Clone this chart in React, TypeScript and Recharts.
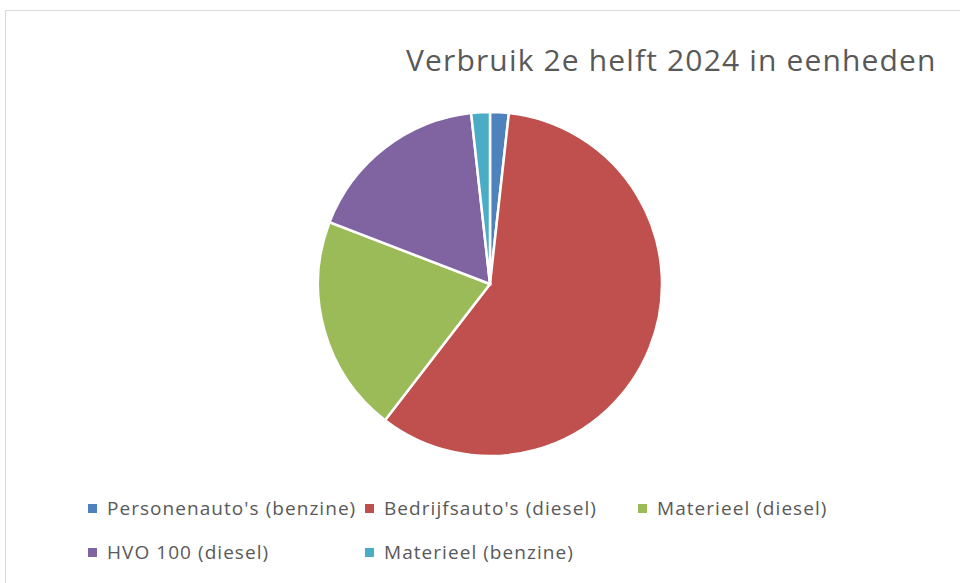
import React from "react";
import { PieChart, Pie, Cell, Customized } from "recharts";

const TITLE = "Verbruik 2e helft 2024 in eenheden";
const categories = [
  "Personenauto's (benzine)",
  "Bedrijfsauto's (diesel)",
  "Materieel (diesel)",
  "HVO 100 (diesel)",
  "Materieel (benzine)",
];
const values = [175, 5870, 2040, 1740, 175];
const colors = ["#4F81BD", "#C0504D", "#9BBB59", "#8064A2", "#4BACC6"];

const data = categories.map((name, i) => ({ name, value: values[i] }));

const FONT = "'Open Sans', 'DejaVu Sans', sans-serif";
const TEXT_COLOR = "#595959";

// legend layout: 3 columns, 2 rows
const legendCols = [88, 365, 638];
const legendRows = [504, 548];

const Frame = () => (
  <rect x={5.5} y={10.5} width={1000} height={1000} fill="none" stroke="#D9D9D9" strokeWidth={1} />
);

const Title = () => (
  <text x={406} y={71} fontFamily={FONT} fontSize={30} letterSpacing={1.15} fill={TEXT_COLOR}>
    {TITLE}
  </text>
);

const LegendBlock = () => (
  <g>
    {categories.map((name, i) => {
      const x = legendCols[i % 3];
      const y = legendRows[Math.floor(i / 3)];
      return (
        <g key={name}>
          <rect x={x} y={y} width={9} height={9} fill={colors[i]} />
          <text
            x={x + 19}
            y={y + 11}
            fontFamily={FONT}
            fontSize={19}
            letterSpacing={1.05}
            fill={TEXT_COLOR}
          >
            {name}
          </text>
        </g>
      );
    })}
  </g>
);

export default function App() {
  return (
    <div style={{ position: "absolute", left: 0, top: 0, width: 960, height: 583, background: "#fff" }}>
      <PieChart width={960} height={583} margin={{ top: 0, right: 0, bottom: 0, left: 0 }}>
        <Customized component={Frame} />
        <Customized component={Title} />
        <Pie
          data={data}
          dataKey="value"
          nameKey="name"
          cx={490}
          cy={284}
          outerRadius={172}
          startAngle={90}
          endAngle={-270}
          stroke="#FFFFFF"
          strokeWidth={2.5}
          isAnimationActive={false}
        >
          {data.map((d, i) => (
            <Cell key={d.name} fill={colors[i]} />
          ))}
        </Pie>
        <Customized component={LegendBlock} />
      </PieChart>
    </div>
  );
}
